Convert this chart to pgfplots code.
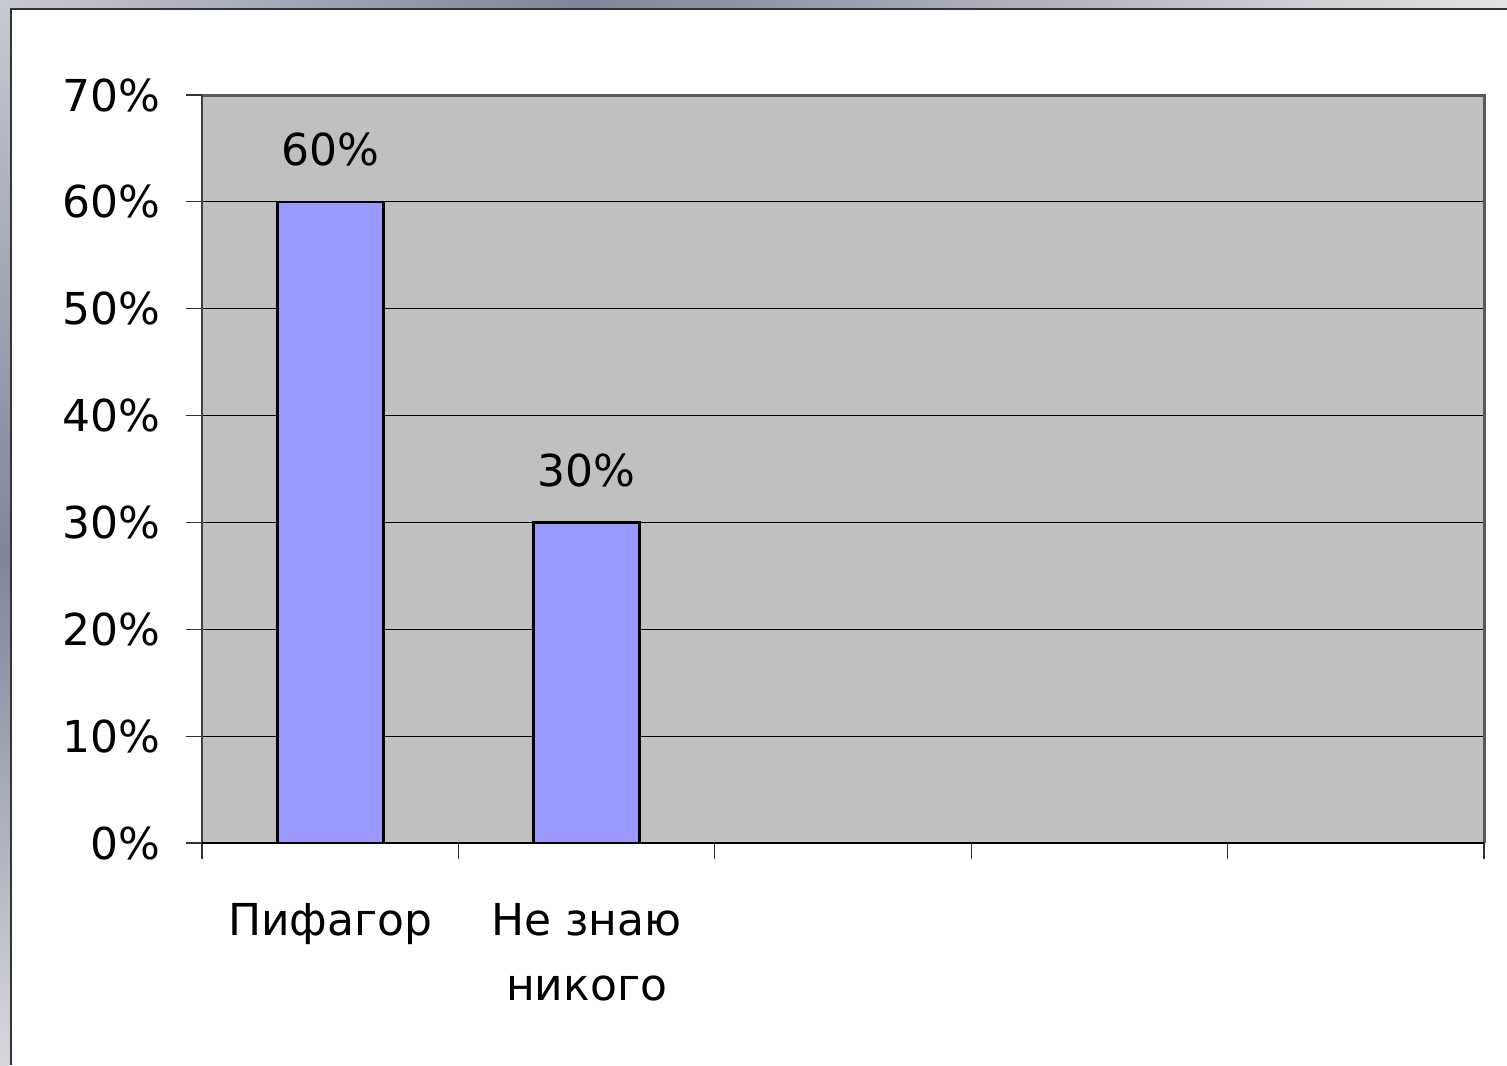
\documentclass[border=0pt]{standalone}
\usepackage{pgfplots}
\pgfplotsset{compat=1.18}
\usepackage{fontspec}
\setmainfont{DejaVu Sans}
\definecolor{plotbg}{RGB}{192,192,192}
\definecolor{barfill}{RGB}{153,153,255}
\definecolor{frameA}{RGB}{200,202,210}
\definecolor{frameB}{RGB}{127,132,152}
\definecolor{frameC}{RGB}{228,228,228}
\definecolor{frameD}{RGB}{215,216,220}
\begin{document}
\begin{tikzpicture}[x=1pt,y=1pt]
\useasboundingbox (0,0) rectangle (753.5,532.5);
\fill[white] (0,0) rectangle (753.5,532.5);
% frame bands
\shade[left color=frameA, right color=frameB] (0,528.5) rectangle (290,532.5);
\shade[left color=frameB, right color=frameC] (290,528.5) rectangle (753.5,532.5);
\shade[top color=frameA, bottom color=frameB] (0,255) rectangle (5,532.5);
\shade[top color=frameB, bottom color=frameD] (0,0) rectangle (5,255);
\draw[black!80, line width=1pt] (5.3,0) -- (5.3,528.2) -- (753.5,528.2);
\begin{axis}[
  at={(101pt,111pt)}, anchor=south west,
  scale only axis, width=641pt, height=374pt,
  xmin=-0.5, xmax=4.5, ymin=0, ymax=70,
  axis background/.style={fill=plotbg},
  /pgf/number format/assume math mode=true,
  axis line style={draw=none},
  tick align=outside,
  xtick pos=lower, ytick pos=left,
  tick style={black!80, line width=0.6pt},
  major tick length=8pt,
  xtick={-0.5,0.5,1.5,2.5,3.5,4.5},
  xticklabels={},
  extra x ticks={0,1},
  extra x tick labels={Пифагор,{Не знаю\\никого}},
  extra x tick style={major tick length=0pt,
    tick label style={align=center, anchor=north, inner sep=0pt, yshift=-30pt,
      font=\fontsize{22}{32.5}\selectfont}},
  ytick={0,10,...,70},
  yticklabel={\pgfmathprintnumber{\tick}\%},
  yticklabel style={anchor=east, inner sep=0pt, xshift=-12.5pt, font=\fontsize{22}{26}\selectfont},
  ymajorgrids=true,
  major grid style={black, line width=0.5pt},
  clip=false,
]
\addplot[ybar, bar width=53pt, fill=barfill, draw=black, line width=1.3pt,
  nodes near coords={\pgfmathprintnumber{\pgfplotspointmeta}\%},
  nodes near coords style={anchor=south, inner sep=0pt, yshift=17pt, font=\fontsize{22}{26}\selectfont, black}]
  coordinates {(0,60) (1,30)};
\draw[gray!70!black, line width=1.5pt] (rel axis cs:0,1) -- (rel axis cs:1,1) -- (rel axis cs:1,0);
\draw[black!75, line width=1pt] (rel axis cs:0,0) -- (rel axis cs:0,1);
\draw[black, line width=1pt] (rel axis cs:0,0) -- (rel axis cs:1,0);
\end{axis}
\end{tikzpicture}
\end{document}
